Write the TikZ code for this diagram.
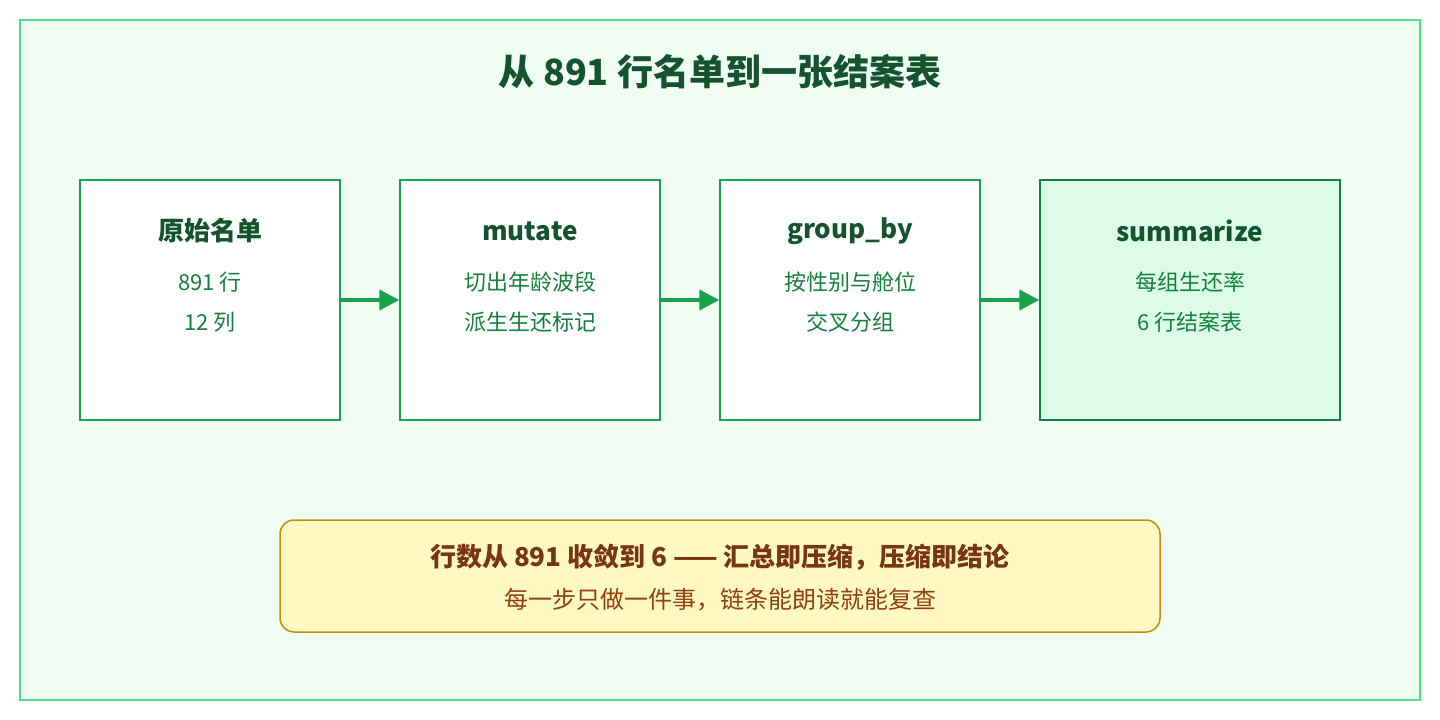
\documentclass[tikz,border=0pt]{standalone}
\usepackage{fontspec}
\setmainfont{Noto Sans CJK SC}
\usetikzlibrary{arrows.meta}
\definecolor{bgG}{HTML}{F0FDF4}
\definecolor{bdG}{HTML}{4ADE80}
\definecolor{boxB}{HTML}{16A34A}
\definecolor{lastF}{HTML}{DCFCE7}
\definecolor{lastB}{HTML}{15803D}
\definecolor{ttl}{HTML}{14532D}
\definecolor{txt}{HTML}{15803D}
\definecolor{noteF}{HTML}{FEF9C3}
\definecolor{noteB}{HTML}{CA8A04}
\definecolor{noteT}{HTML}{78350F}
\definecolor{noteS}{HTML}{92400E}
\begin{document}
\begin{tikzpicture}[x=1pt,y=-1pt,
  box/.style={draw=boxB,line width=1.5pt,fill=white},
  hd/.style={text=ttl,font=\bfseries\fontsize{26}{30}\selectfont},
  ln/.style={text=txt,font=\fontsize{22}{26}\selectfont},
  arr/.style={draw=boxB,line width=4pt,-{Triangle[length=20pt,width=20pt]}}]
\useasboundingbox (0,0) rectangle (1440,720);
\draw[fill=bgG,draw=bdG,line width=1.5pt] (20,20) rectangle (1420,700);
\node[text=ttl,font=\bfseries\fontsize{36}{42}\selectfont] (title) at (720,72) {从 891 行名单到一张结案表};
\node[box,minimum width=260pt,minimum height=240pt] (b1) at (210,300) {};
\node[box,minimum width=260pt,minimum height=240pt] (b2) at (530,300) {};
\node[box,minimum width=260pt,minimum height=240pt] (b3) at (850,300) {};
\node[box,draw=lastB,fill=lastF,minimum width=300pt,minimum height=240pt] (b4) at (1190,300) {};
\node[hd] (h1) at (210,231) {原始名单};
\node[ln] (l1a) at (210,282) {891 行};
\node[ln] (l1b) at (210,322) {12 列};
\node[hd] (h2) at (530,231) {mutate};
\node[ln] (l2a) at (530,282) {切出年龄波段};
\node[ln] (l2b) at (530,322) {派生生还标记};
\node[hd] (h3) at (850,231) {group\_by};
\node[ln] (l3a) at (850,282) {按性别与舱位};
\node[ln] (l3b) at (850,322) {交叉分组};
\node[hd] (h4) at (1190,231) {summarize};
\node[ln] (l4a) at (1190,282) {每组生还率};
\node[ln] (l4b) at (1190,322) {6 行结案表};
\draw[arr] (b1.east) -- (b2.west);
\draw[arr] (b2.east) -- (b3.west);
\draw[arr] (b3.east) -- (b4.west);
\draw[fill=noteF,draw=noteB,line width=1.5pt,rounded corners=14pt] (280,520) rectangle (1160,632);
\node[text=noteT,font=\bfseries\fontsize{26}{30}\selectfont] (n1) at (720,557) {行数从 891 收敛到 6 —— 汇总即压缩，压缩即结论};
\node[text=noteS,font=\fontsize{24}{28}\selectfont] (n2) at (720,600) {每一步只做一件事，链条能朗读就能复查};
\end{tikzpicture}
\end{document}
